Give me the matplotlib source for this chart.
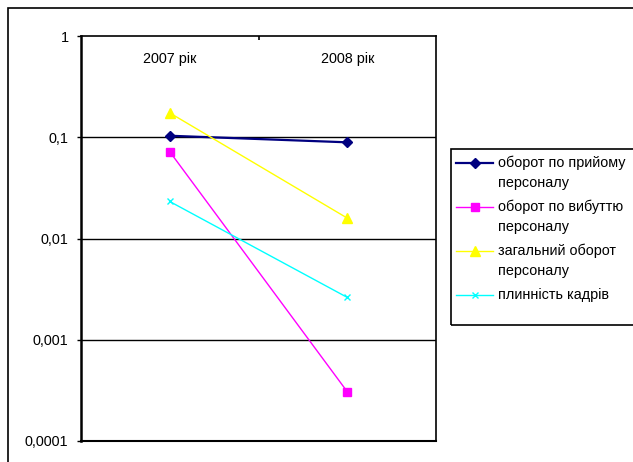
import matplotlib
matplotlib.use("Agg")
import matplotlib.pyplot as plt
from matplotlib.lines import Line2D
from matplotlib.patches import Rectangle

plt.rcParams['font.family'] = ['Liberation Sans', 'DejaVu Sans']

### data
years = ['2007 рік', '2008 рік']
hire = [0.1035, 0.0891]
leave = [0.072, 0.000307]
total = [0.174, 0.0159]
fluct = [0.0232, 0.00262]
names = ['оборот по прийому\nперсоналу', 'оборот по вибуттю\nперсоналу',
         'загальний оборот\nперсоналу', 'плинність кадрів']
ytick_vals = [1, 0.1, 0.01, 0.001, 0.0001]
ytick_labels = ['1', '0,1', '0,01', '0,001', '0,0001']

W, H = 633, 462
FS = 10.4
fig = plt.figure(figsize=(W / 100, H / 100), dpi=100)

def fx(x):
    return x / W

def fy(y):
    return 1 - y / H

# outer chart frame (runs off the right and bottom edge)
fig.patches.append(Rectangle((fx(8), fy(470)), fx(640) - fx(8), fy(8) - fy(470),
                             transform=fig.transFigure, fill=False,
                             edgecolor='black', linewidth=1.2))

ax = fig.add_axes([fx(81), fy(441), fx(436) - fx(81), fy(36) - fy(441)])
ax.set_yscale('log')
ax.set_ylim(0.0001, 1)
ax.set_xlim(-0.5, 1.5)

styles = [
    dict(color='#000080', marker='D', markersize=5.5, linewidth=1.6),
    dict(color='#FF00FF', marker='s', markersize=6, linewidth=1.0),
    dict(color='#FFFF00', marker='^', markersize=7, linewidth=1.0),
    dict(color='#00FFFF', marker='x', markersize=5, linewidth=1.0, markeredgewidth=1.0),
]
series = [hire, leave, total, fluct]
xs = list(range(len(years)))
for vals, st in zip(series, styles):
    ax.plot(xs, vals, zorder=3, **st)

for v in ytick_vals[1:-1]:
    ax.axhline(v, color='black', linewidth=1.0, zorder=1)

ax.set_yticks(ytick_vals)
ax.set_yticklabels(ytick_labels)
ax.minorticks_off()
ax.tick_params(axis='y', direction='out', length=3, width=1, labelsize=FS, pad=6)

# categories sit on top, labels drawn just inside the plot
ax.xaxis.set_ticks_position('top')
ax.set_xticks(xs)
ax.set_xticklabels(years)
ax.tick_params(axis='x', length=0, labelsize=FS, pad=-21.5)
ax.set_xticks([0.5], minor=True)
ax.tick_params(axis='x', which='minor', direction='in', length=3, width=1.2, top=True)

ax.spines['left'].set_linewidth(1.8)
ax.spines['bottom'].set_linewidth(1.5)
ax.spines['top'].set_linewidth(1.2)
ax.spines['right'].set_linewidth(1.2)

### legend drawn by hand so the marker sits on the first text line
fig.patches.append(Rectangle((fx(451), fy(325)), fx(640) - fx(451), fy(149) - fy(325),
                             transform=fig.transFigure, fill=False,
                             edgecolor='black', linewidth=1.2))
rows = [163, 207, 251, 295]
for name, st, y in zip(names, styles, rows):
    fig.lines.append(Line2D([fx(456), fx(493)], [fy(y), fy(y)], transform=fig.transFigure,
                            color=st['color'], linewidth=st['linewidth']))
    fig.lines.append(Line2D([fx(474.5)], [fy(y)], transform=fig.transFigure,
                            linestyle='none', **{k: v for k, v in st.items() if k != 'linewidth'}))
    for i, part in enumerate(name.split('\n')):
        fig.text(fx(498), fy(y + 4 + 20 * i), part, ha='left', va='baseline',
                 fontsize=FS, transform=fig.transFigure)

fig.savefig('out.png', dpi=100)
